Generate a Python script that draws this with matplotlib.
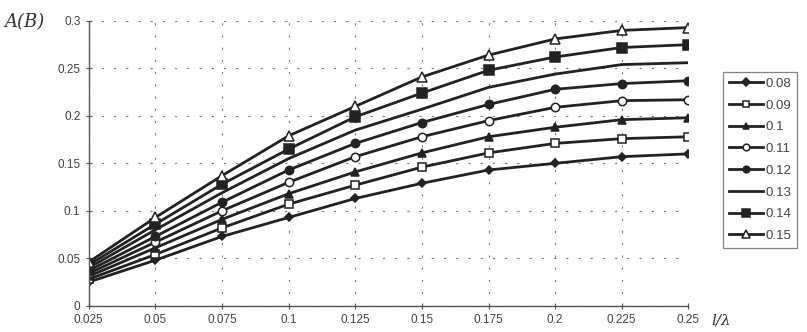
import matplotlib
matplotlib.use("Agg")
import matplotlib.pyplot as plt

x_vals = [0.025, 0.05, 0.075, 0.1, 0.125, 0.15, 0.175, 0.2, 0.225, 0.25]
x_labels = ["0.025", "0.05", "0.075", "0.1", "0.125", "0.15", "0.175", "0.2", "0.225", "0.25"]
y_ticks = [0, 0.05, 0.1, 0.15, 0.2, 0.25, 0.3]
y_labels = ["0", "0.05", "0.1", "0.15", "0.2", "0.25", "0.3"]

series_names = ["0.08", "0.09", "0.1", "0.11", "0.12", "0.13", "0.14", "0.15"]
s008 = [0.025, 0.048, 0.073, 0.093, 0.113, 0.129, 0.143, 0.150, 0.157, 0.160]
s009 = [0.028, 0.054, 0.082, 0.107, 0.127, 0.146, 0.161, 0.171, 0.176, 0.178]
s010 = [0.031, 0.061, 0.091, 0.118, 0.141, 0.161, 0.178, 0.188, 0.196, 0.198]
s011 = [0.034, 0.067, 0.100, 0.130, 0.157, 0.178, 0.195, 0.209, 0.216, 0.217]
s012 = [0.037, 0.073, 0.109, 0.143, 0.171, 0.193, 0.212, 0.228, 0.234, 0.237]
s013 = [0.040, 0.080, 0.119, 0.155, 0.185, 0.207, 0.230, 0.244, 0.254, 0.256]
s014 = [0.043, 0.086, 0.128, 0.165, 0.199, 0.224, 0.248, 0.262, 0.272, 0.275]
s015 = [0.046, 0.093, 0.137, 0.179, 0.210, 0.241, 0.264, 0.281, 0.290, 0.293]
series = [s008, s009, s010, s011, s012, s013, s014, s015]

styles = [
    dict(marker="D", mfc="#222222", ms=4.5),
    dict(marker="s", mfc="white", ms=6),
    dict(marker="^", mfc="#222222", ms=6),
    dict(marker="o", mfc="white", ms=6),
    dict(marker="o", mfc="#222222", ms=6),
    dict(marker="None", mfc="#222222", ms=6),
    dict(marker="s", mfc="#222222", ms=6.5),
    dict(marker="^", mfc="white", ms=6.5),
]

plt.rcParams['font.family'] = ['Liberation Sans', 'DejaVu Sans']
fig = plt.figure(figsize=(8.07, 3.32), dpi=100)
ax = fig.add_axes([0.110, 0.079, 0.743, 0.858])

line_col = "#222222"
for name, vals, st in zip(series_names, series, styles):
    ax.plot(x_vals, vals, color=line_col, lw=2.0, marker=st["marker"],
            mfc=st["mfc"], mec=line_col, mew=1.1, ms=st["ms"], label=name)

ax.set_xlim(0.025, 0.25)
ax.set_ylim(0, 0.3)
ax.set_xticks(x_vals)
ax.set_xticklabels(x_labels)
ax.set_yticks(y_ticks)
ax.set_yticklabels(y_labels)
ax.tick_params(axis="both", direction="inout", length=5, width=0.8,
               labelsize=8.5, colors="#555555", labelcolor="#444444")
ax.grid(True, color="#777777", lw=0.8, linestyle=(0, (2, 9)))
for sp in ["top", "right"]:
    ax.spines[sp].set_visible(False)
for sp in ["left", "bottom"]:
    ax.spines[sp].set_color("#555555")
    ax.spines[sp].set_linewidth(1.0)

fig.text(0.006, 0.935, "A(B)", fontsize=13, family="DejaVu Serif",
         style="italic", color="#333333", va="center", ha="left")
fig.text(0.882, 0.035, "l/λ", fontsize=11, family="DejaVu Serif",
         style="italic", color="#333333", va="center", ha="left")

leg = ax.legend(loc="upper left", bbox_to_anchor=(1.047, 0.845), frameon=True,
                fontsize=9.5, handlelength=2.6, labelspacing=0.72,
                borderpad=0.45, handletextpad=0.15, fancybox=False,
                markerscale=0.8)
leg.get_frame().set_edgecolor("#666666")
leg.get_frame().set_linewidth(0.9)
for t in leg.get_texts():
    t.set_color("#444444")

fig.savefig("out.png", dpi=100)
